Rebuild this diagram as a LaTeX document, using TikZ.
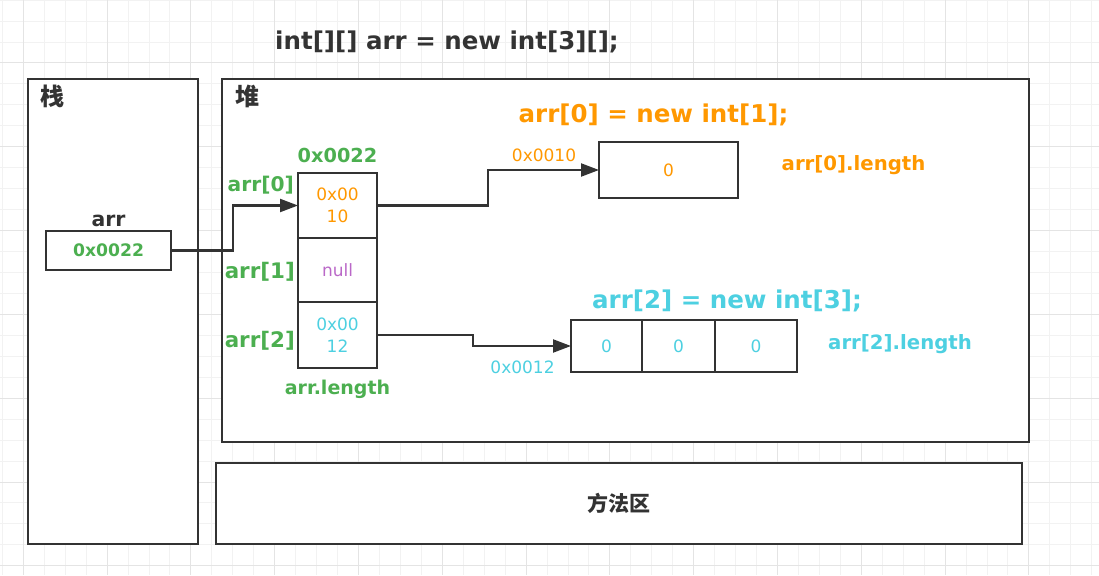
\documentclass[tikz,border=0pt]{standalone}
\usepackage{fontspec}
\setmainfont{DejaVu Sans}
\newfontfamily\cjk{Noto Sans CJK SC}
\usepackage{tikz}
\usetikzlibrary{positioning,arrows.meta}

\definecolor{lineC}{HTML}{333333}
\definecolor{grn}{HTML}{4CAF50}
\definecolor{org}{HTML}{FF9800}
\definecolor{cyn}{HTML}{4DD0E1}
\definecolor{prp}{HTML}{BA68C8}
\definecolor{gridA}{HTML}{F2F2F2}
\definecolor{gridB}{HTML}{E4E4E4}

\tikzset{
	region/.style={rectangle, draw=lineC, line width=2.4pt, fill=white, anchor=north west, inner sep=0pt},
	cell/.style={rectangle, draw=lineC, line width=2.4pt, fill=white, inner sep=0pt, outer sep=0pt},
	ptr/.style={draw=lineC, line width=2.2pt, -{Triangle[length=18pt,width=13pt]}},
	lbl/.style={inner sep=0pt, font=\bfseries\fontsize{#1}{#1}\selectfont},
	val/.style={inner sep=0pt, align=center, font=\fontsize{17}{22}\selectfont},
	zh/.style={inner sep=0pt, text=lineC, font=\cjk\bfseries\fontsize{#1}{#1}\selectfont},
}

\begin{document}
\begin{tikzpicture}[x=1pt, y=-1pt]
		\useasboundingbox (0,0) rectangle (1099,575);
		
		% grid
		\foreach \k in {0,...,52} \draw[gridA, line width=1pt] ({2.35+20.95*\k},0) -- ({2.35+20.95*\k},575);
		\foreach \k in {0,...,27} \draw[gridA, line width=1pt] (0,{0.15+20.95*\k}) -- (1099,{0.15+20.95*\k});
		\foreach \k in {1,5,...,49} \draw[gridB, line width=1pt] ({2.35+20.95*\k},0) -- ({2.35+20.95*\k},575);
		\foreach \k in {3,7,...,27} \draw[gridB, line width=1pt] (0,{0.15+20.95*\k}) -- (1099,{0.15+20.95*\k});
		
		\node [lbl=24.5, text=lineC] (ttl) at (447,41.5) {int[][] arr = new int[3][];};
		
		\node [region, minimum width=170pt, minimum height=465pt] (stk) at (27,78) {};
		\node [region, minimum width=807pt, minimum height=363pt] (hp) at (221,78) {};
		\node [region, minimum width=806pt, minimum height=81pt] (mth) at (215,462) {};
		
		\node [zh=24, shift={(25,18)}] (stkt) at (stk.north west) {栈};
		\node [zh=24, shift={(26,18)}] (hpt) at (hp.north west) {堆};
		\node [zh=21] (mtht) at (mth.center) {方法区};
		
		% stack variable
		\node [cell, minimum width=125pt, minimum height=39pt, lbl=17.2, text=grn] (av) at (108.5,250.5) {0x0022};
		\node [lbl=20.4, text=lineC, above=4pt of av] (avt) {arr};
		
		% outer array
		\node [cell, val, text=org, minimum width=79pt, minimum height=65pt] (c0) at (337.5,205.5) {0x00\\10};
		\node [cell, val, text=prp, minimum width=79pt, minimum height=64pt, below=0pt of c0] (c1) {null};
		\node [cell, val, text=cyn, minimum width=79pt, minimum height=66pt, below=0pt of c1] (c2) {0x00\\12};
		
		\node [lbl=19.3, text=grn, above=10pt of c0] (c0t) {0x0022};
		\node [lbl=20.2, text=grn, anchor=east, shift={(-4,12)}] (i0) at (c0.north west) {arr[0]};
		\node [lbl=21.4, text=grn, anchor=east, shift={(-3,2)}] (i1) at (c1.west) {arr[1]};
		\node [lbl=21.4, text=grn, anchor=east, shift={(-3,6)}] (i2) at (c2.west) {arr[2]};
		\node [lbl=19, text=grn, below=12pt of c2] (len) {arr.length};
		
		% arr[0]
		\node [cell, val, text=org, minimum width=139pt, minimum height=56pt] (b0) at (668.5,170) {0};
		\node [lbl=24.5, text=org] (b0t) at (653.5,115) {arr[0] = new int[1];};
		\node [lbl=19.7, text=org] (b0l) at (853.5,165) {arr[0].length};
		\node [val, text=org] (a0) at (544,155) {0x0010};
		
		% arr[2]
		\node [cell, val, text=cyn, minimum width=71pt, minimum height=52pt] (d0) at (606.5,346) {0};
		\node [cell, val, text=cyn, minimum width=73pt, minimum height=52pt, right=0pt of d0] (d1) {0};
		\node [cell, val, text=cyn, minimum width=82pt, minimum height=52pt, right=0pt of d1] (d2) {0};
		\node [lbl=24.5, text=cyn] (d0t) at (727,301) {arr[2] = new int[3];};
		\node [lbl=19.7, text=cyn] (d2l) at (900,344) {arr[2].length};
		\node [val, text=cyn] (a2) at (522.5,367.5) {0x0012};
		
		\draw[ptr] (av.east) -- ++(62,0) |- (c0.west);
		\draw[ptr] (c0.east) -- ++(111,0) |- (b0.west);
		\draw[ptr] (c2.east) -- ++(96,0) |- (d0.west);
	\end{tikzpicture}
\end{document}
